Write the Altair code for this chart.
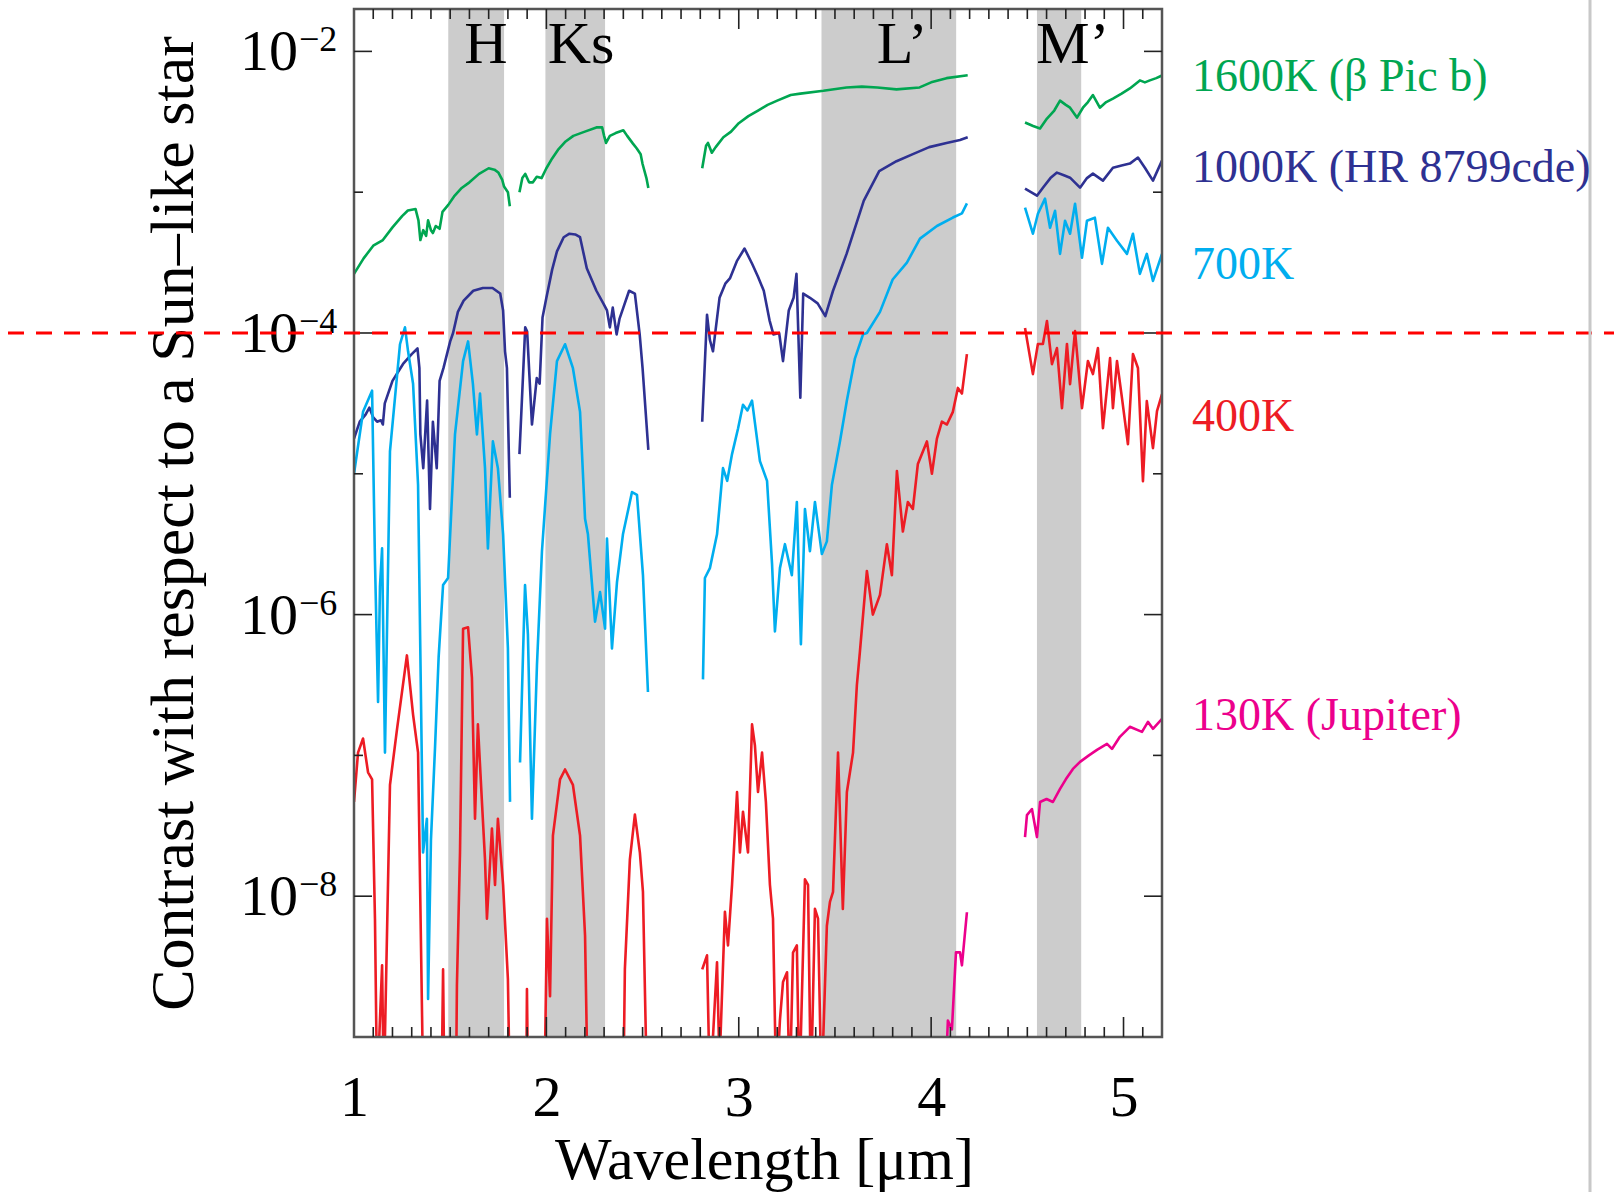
import altair as alt
import pandas as pd

# ---------------- data (wavelength in micron, log10 contrast; None = gap) ----------------
OFF = -9.4  # below the plotted range (line leaves the frame)

wl_1600 = [1.00, 1.05, 1.10, 1.15, 1.20, 1.25, 1.28, 1.32, 1.335, 1.345, 1.36, 1.375, 1.385, 1.40, 1.41,
           1.425, 1.445, 1.46, 1.49, 1.52, 1.56, 1.60, 1.65, 1.70, 1.73, 1.75, 1.77, 1.78, 1.80, 1.81, None,
           1.86, 1.875, 1.89, 1.91, 1.93, 1.95, 1.975, 2.00, 2.03, 2.06, 2.10, 2.14, 2.20, 2.26, 2.29, 2.30,
           2.31, 2.33, 2.36, 2.40, 2.42, 2.45, 2.47, 2.49, 2.50, 2.52, 2.53, None,
           2.81, 2.83, 2.84, 2.86, 2.88, 2.92, 2.96, 3.00, 3.05, 3.10, 3.15, 3.20, 3.27, 3.32, 3.44, 3.56,
           3.64, 3.72, 3.82, 3.94, 4.00, 4.08, 4.19, None,
           4.488, 4.53, 4.566, 4.602, 4.64, 4.67, 4.70, 4.722, 4.758, 4.789, 4.815, 4.841, 4.877, 4.91,
           4.945, 4.99, 5.033, 5.085, 5.111, 5.137, 5.17, 5.20]
lc_1600 = [-3.58, -3.47, -3.38, -3.34, -3.25, -3.17, -3.13, -3.12, -3.20, -3.34, -3.27, -3.31, -3.20, -3.27, -3.29,
           -3.24, -3.26, -3.14, -3.09, -3.03, -2.97, -2.93, -2.87, -2.83, -2.84, -2.86, -2.91, -2.96, -3.00, -3.10, None,
           -3.00, -2.90, -2.87, -2.93, -2.93, -2.89, -2.90, -2.83, -2.76, -2.70, -2.64, -2.60, -2.57, -2.54, -2.54, -2.60,
           -2.65, -2.60, -2.58, -2.56, -2.60, -2.655, -2.69, -2.73, -2.80, -2.90, -2.97, None,
           -2.83, -2.67, -2.65, -2.72, -2.68, -2.61, -2.57, -2.51, -2.46, -2.42, -2.38, -2.35, -2.31, -2.30, -2.28, -2.256,
           -2.25, -2.256, -2.27, -2.256, -2.22, -2.19, -2.17, None,
           -2.505, -2.53, -2.548, -2.477, -2.42, -2.35, -2.38, -2.40, -2.47, -2.40, -2.36, -2.31, -2.40, -2.36,
           -2.335, -2.30, -2.263, -2.206, -2.22, -2.206, -2.19, -2.171]

wl_1000 = [1.00, 1.03, 1.06, 1.08, 1.10, 1.12, 1.14, 1.15, 1.16, 1.20, 1.255, 1.30, 1.33, 1.34, 1.345, 1.36,
           1.38, 1.395, 1.41, 1.43, 1.445, 1.465, 1.50, 1.515, 1.54, 1.57, 1.62, 1.67, 1.72, 1.76, 1.775,
           1.785, 1.795, 1.81, None,
           1.86, 1.89, 1.90, 1.925, 1.95, 1.965, 1.98, 2.00, 2.03, 2.055, 2.09, 2.12, 2.15, 2.175, 2.21,
           2.26, 2.30, 2.315, 2.33, 2.345, 2.365, 2.38, 2.40, 2.43, 2.46, 2.485, 2.50, 2.53, None,
           2.81, 2.835, 2.85, 2.866, 2.90, 2.93, 2.955, 2.99, 3.03, 3.07, 3.10, 3.13, 3.16, 3.18, 3.21,
           3.23, 3.26, 3.285, 3.30, 3.32, 3.335, 3.37, 3.41, 3.45, 3.49, 3.56, 3.65, 3.73, 3.82, 3.905,
           3.99, 4.08, 4.15, 4.19, None,
           4.488, 4.55, 4.581, 4.62, 4.654, 4.69, 4.722, 4.774, 4.81, 4.841, 4.893, 4.945, 4.99, 5.033,
           5.075, 5.111, 5.153, 5.20]
lc_1000 = [-4.75, -4.63, -4.58, -4.53, -4.60, -4.63, -4.62, -4.65, -4.50, -4.34, -4.22, -4.15, -4.11, -4.25, -4.72, -4.96,
           -4.48, -5.25, -4.63, -4.96, -4.34, -4.25, -4.06, -4.00, -3.85, -3.77, -3.70, -3.68, -3.68, -3.72, -3.84,
           -4.13, -4.25, -5.17, None,
           -4.86, -3.96, -3.99, -4.65, -4.32, -4.36, -3.89, -3.75, -3.55, -3.42, -3.32, -3.295, -3.30, -3.32, -3.54,
           -3.70, -3.80, -3.84, -3.96, -3.82, -4.01, -3.90, -3.82, -3.70, -3.72, -4.01, -4.25, -4.83, None,
           -4.63, -3.87, -4.05, -4.13, -3.75, -3.65, -3.61, -3.49, -3.40, -3.51, -3.60, -3.70, -3.91, -4.01, -4.00,
           -4.20, -3.84, -3.75, -3.58, -4.46, -3.72, -3.75, -3.79, -3.88, -3.70, -3.44, -3.06, -2.85, -2.78, -2.73,
           -2.68, -2.65, -2.63, -2.61, None,
           -2.975, -3.025, -2.968, -2.90, -2.861, -2.88, -2.897, -2.968, -2.90, -2.868, -2.918, -2.826, -2.81, -2.797,
           -2.754, -2.826, -2.918, -2.776]

wl_700 = [1.00, 1.047, 1.094, 1.109, 1.125, 1.135, 1.146, 1.161, 1.187, 1.239, 1.265, 1.281, 1.307, 1.333,
          1.359, 1.379, 1.385, 1.40, 1.421, 1.44, 1.463, 1.489, 1.525, 1.567, 1.593, 1.618, 1.639, 1.655,
          1.681, 1.696, 1.722, 1.748, 1.775, 1.80, 1.811, None,
          1.863, 1.879, 1.889, 1.904, 1.925, 1.951, 1.977, 2.019, 2.055, 2.097, 2.138, 2.175, 2.201, 2.216,
          2.253, 2.279, 2.305, 2.315, 2.341, 2.367, 2.398, 2.445, 2.471, 2.502, 2.528, None,
          2.814, 2.824, 2.85, 2.887, 2.918, 2.94, 2.965, 2.996, 3.022, 3.045, 3.069, 3.09, 3.11, 3.147,
          3.173, 3.188, 3.214, 3.24, 3.276, 3.302, 3.323, 3.344, 3.37, 3.396, 3.432, 3.458, 3.484, 3.526,
          3.562, 3.604, 3.646, 3.666, 3.734, 3.80, 3.874, 3.942, 4.03, 4.113, 4.16, 4.186, None,
          4.488, 4.529, 4.555, 4.592, 4.618, 4.644, 4.670, 4.696, 4.722, 4.748, 4.784, 4.810, 4.851,
          4.888, 4.919, 4.966, 5.018, 5.049, 5.085, 5.121, 5.153, 5.20]
lc_700 = [-5.00, -4.56, -4.41, -5.62, -6.62, -5.80, -5.53, -6.98, -4.84, -4.08, -3.96, -4.13, -4.36, -5.08,
          -7.69, -7.45, -8.73, -7.60, -6.95, -6.30, -5.79, -5.74, -4.72, -4.20, -4.06, -4.36, -4.72, -4.43,
          -4.96, -5.53, -4.77, -4.96, -5.43, -6.24, -7.33, None,
          -7.05, -6.26, -5.79, -6.14, -7.45, -6.36, -5.55, -4.72, -4.20, -4.08, -4.25, -4.56, -5.32, -5.43,
          -6.05, -5.84, -6.10, -5.46, -6.24, -5.77, -5.43, -5.13, -5.15, -5.72, -6.55, None,
          -6.46, -5.74, -5.67, -5.43, -4.96, -5.05, -4.86, -4.68, -4.51, -4.55, -4.48, -4.70, -4.91, -5.05,
          -5.64, -6.12, -5.67, -5.50, -5.72, -5.20, -6.21, -5.25, -5.55, -5.20, -5.57, -5.48, -5.08, -4.77,
          -4.48, -4.18, -4.01, -4.00, -3.85, -3.62, -3.50, -3.33, -3.24, -3.18, -3.15, -3.08, None,
          -3.110, -3.295, -3.153, -3.046, -3.253, -3.132, -3.438, -3.203, -3.295, -3.082, -3.466, -3.203, -3.181,
          -3.509, -3.253, -3.345, -3.438, -3.295, -3.580, -3.438, -3.630, -3.438]

wl_400 = [1.00, 1.021, 1.047, 1.073, 1.094, 1.109, 1.12, 1.146, 1.155, 1.187, 1.224, 1.275, 1.307, 1.333,
          1.36, 1.455, 1.463, 1.47, 1.53, 1.535, 1.551, 1.567, 1.593, 1.613, 1.629, 1.644, 1.665, 1.681,
          1.691, 1.717, 1.733, 1.748, 1.775, 1.80, 1.81, None,
          1.86, 1.895, 1.899, 1.905, 1.99, 2.003, 2.019, 2.034, 2.071, 2.097, 2.138, 2.175, 2.201, 2.215,
          2.40, 2.408, 2.434, 2.46, 2.486, 2.502, 2.523, None,
          2.81, 2.835, 2.85, 2.887, 2.90, 2.928, 2.944, 2.965, 2.991, 3.006, 3.022, 3.048, 3.069, 3.084,
          3.10, 3.121, 3.141, 3.162, 3.178, 3.195, 3.214, 3.23, 3.251, 3.265, 3.282, 3.302, 3.315, 3.344,
          3.36, 3.375, 3.396, 3.412, 3.43, 3.458, 3.474, 3.49, 3.516, 3.541, 3.562, 3.578, 3.594, 3.614,
          3.630, 3.666, 3.697, 3.734, 3.770, 3.796, 3.822, 3.853, 3.879, 3.905, 3.931, 3.978, 4.004, 4.030,
          4.056, 4.082, 4.113, 4.139, 4.160, 4.186, None,
          4.488, 4.529, 4.555, 4.581, 4.602, 4.628, 4.654, 4.680, 4.706, 4.722, 4.748, 4.784, 4.815, 4.841,
          4.867, 4.893, 4.930, 4.945, 4.966, 4.992, 5.023, 5.049, 5.075, 5.101, 5.121, 5.153, 5.174, 5.20]
lc_400 = [-7.33, -6.98, -6.88, -7.12, -7.17, -8.16, OFF, -8.49, OFF, -7.21, -6.81, -6.29, -6.71, -6.98,
          OFF, OFF, -8.52, OFF, OFF, -8.63, -7.69, -6.10, -6.09, -6.45, -7.45, -6.78, -7.33, -7.74,
          -8.16, -7.52, -7.92, -7.45, -7.92, -8.59, OFF, None,
          OFF, OFF, -8.66, OFF, OFF, -8.16, -8.71, -7.57, -7.17, -7.10, -7.21, -7.57, -8.28, OFF,
          OFF, -8.52, -7.74, -7.42, -7.69, -7.97, OFF, None,
          -8.52, -8.42, OFF, -8.47, -9.2, -8.11, -8.35, -7.92, -7.26, -7.69, -7.40, -7.69, -6.78, -6.93,
          -7.26, -6.98, -7.33, -7.92, -8.16, OFF, -8.88, -8.61, -8.54, OFF, -8.40, -8.35, OFF, -7.88,
          -7.92, OFF, -8.09, -8.16, OFF, -8.21, -8.04, -7.97, -6.98, -8.09, -7.26, -7.12, -6.98, -6.50,
          -6.26, -5.69, -6.00, -5.86, -5.50, -5.72, -4.98, -5.41, -5.20, -5.25, -4.93, -4.77, -5.00, -4.75,
          -4.63, -4.65, -4.56, -4.39, -4.43, -4.15, None,
          -3.964, -4.292, -4.078, -4.078, -3.915, -4.221, -4.107, -4.534, -4.078, -4.363, -3.986, -4.534, -4.199, -4.292,
          -4.107, -4.676, -4.178, -4.534, -4.199, -4.463, -4.790, -4.149, -4.249, -5.053, -4.484, -4.818, -4.555, -4.434]

wl_130 = [4.072, 4.087, 4.108, 4.129, 4.150, 4.160, 4.186, None,
          4.488, 4.498, 4.524, 4.550, 4.566, 4.60, 4.633, 4.670, 4.70, 4.737, 4.774, 4.82, 4.862, 4.914,
          4.940, 4.981, 5.033, 5.096, 5.127, 5.153, 5.20]
lc_130 = [OFF, -8.883, -8.946, -8.399, -8.399, -8.491, -8.114, None,
          -7.580, -7.424, -7.381, -7.580, -7.331, -7.31, -7.331, -7.238, -7.17, -7.096, -7.046, -7.00, -6.961, -6.918,
          -6.954, -6.868, -6.797, -6.833, -6.762, -6.811, -6.740]

series_names = ["1600K (β Pic b)", "1000K (HR 8799cde)", "700K", "400K", "130K (Jupiter)"]
series_colors = ["#00a651", "#2e3192", "#00aeef", "#ed1c24", "#ec008c"]
label_logc = [-2.278, -2.925, -3.616, -4.698, -6.819]
label_wl = [5.356, 5.356, 5.356, 5.356, 5.356]

band_names = ["H", "Ks", "L’", "M’"]
band_start = [1.49, 1.995, 3.43, 4.55]
band_end = [1.78, 2.305, 4.13, 4.78]
band_label_wl = [1.686, 2.18, 3.85, 4.737]

x_major = [2, 3, 4, 5]
x_minor = [1.1, 1.2, 1.3, 1.4, 1.5, 1.6, 1.7, 1.8, 1.9, 2.1, 2.2, 2.3, 2.4, 2.5, 2.6, 2.7, 2.8, 2.9,
           3.1, 3.2, 3.3, 3.4, 3.5, 3.6, 3.7, 3.8, 3.9, 4.1, 4.2, 4.3, 4.4, 4.5, 4.6, 4.7, 4.8, 4.9,
           5.1]
x_tick_labels = [1, 2, 3, 4, 5]
y_major = [1e-2, 1e-4, 1e-6, 1e-8]
y_minor = [1e-3, 1e-5, 1e-7]
y_exp_text = ["−2", "−4", "−6", "−8"]
contrast_limit = 1e-4

# ---------------- build tables ----------------
rows = []
for name, wl, lc in zip(series_names, [wl_1600, wl_1000, wl_700, wl_400, wl_130],
                        [lc_1600, lc_1000, lc_700, lc_400, lc_130]):
    seg = 0
    for i, (w, v) in enumerate(zip(wl, lc)):
        if w is None:
            seg += 1
            continue
        rows.append({"series": name, "seg": f"{name}#{seg}", "i": i, "wl": w, "c": 10 ** v})
spec_df = pd.DataFrame(rows)

labels_df = pd.DataFrame({"series": series_names, "wl": label_wl, "c": [10 ** v for v in label_logc]})
bands_df = pd.DataFrame({"band": band_names, "start": band_start, "end": band_end, "lx": band_label_wl})
xmaj_df = pd.DataFrame({"wl": x_major})
xmin_df = pd.DataFrame({"wl": x_minor})
ymaj_df = pd.DataFrame({"c": y_major, "base": ["10"] * 4, "exp": y_exp_text})
ymin_df = pd.DataFrame({"c": y_minor})

W, H = 808, 1028
FONT = "Liberation Serif"

xs = alt.Scale(domain=[1, 5.2], nice=False, zero=False)
ys = alt.Scale(type="log", domain=[1e-9, 2e-2], nice=False)
cs = alt.Scale(domain=series_names, range=series_colors)

x_axis = alt.Axis(values=x_tick_labels, format="d", labelFontSize=58, labelFont=FONT, labelColor="black",
                  labelBaseline="alphabetic", labelPadding=78, labelFlush=False, labelOverlap=False,
                  ticks=False, tickSize=0, domain=False, grid=False,
                  title="Wavelength [μm]", titleFont=FONT, titleFontSize=60, titleFontWeight="normal",
                  titleColor="black", titleX=410, titleY=141, titleBaseline="alphabetic", titleAlign="center")
y_axis = alt.Axis(labels=False, ticks=False, tickSize=0, domain=False, grid=False,
                  title="Contrast with respect to a Sun–like star", titleFont=FONT, titleFontSize=62,
                  titleFontWeight="normal", titleColor="black", titleX=-162, titleY=H / 2, titleAngle=270,
                  titleAlign="center", titleBaseline="alphabetic")

bands = alt.Chart(bands_df).mark_rect(color="#cccccc").encode(
    x=alt.X("start:Q", scale=xs, axis=x_axis), x2="end:Q",
    y=alt.value(0), y2=alt.value(H))

band_text = alt.Chart(bands_df).mark_text(font=FONT, fontSize=60, baseline="alphabetic", align="center",
                                          color="black").encode(
    x=alt.X("lx:Q", scale=xs), y=alt.value(54), text="band:N")

lines = alt.Chart(spec_df).mark_line(strokeWidth=2.6, clip=True, strokeJoin="round").encode(
    x=alt.X("wl:Q", scale=xs),
    y=alt.Y("c:Q", scale=ys, axis=y_axis),
    color=alt.Color("series:N", scale=cs, legend=None),
    detail="seg:N", order="i:Q")

frame = alt.Chart(pd.DataFrame({"k": [0]})).mark_rect(
    fill=None, fillOpacity=0, stroke="#555555", strokeWidth=2.5).encode(
    x=alt.value(0), x2=alt.value(W), y=alt.value(0), y2=alt.value(H))

tick_col = "#222222"
xb_major = alt.Chart(xmaj_df).mark_rule(color=tick_col, strokeWidth=1.6).encode(
    x=alt.X("wl:Q", scale=xs), y=alt.value(H), y2=alt.value(H - 20))
xt_major = alt.Chart(xmaj_df).mark_rule(color=tick_col, strokeWidth=1.6).encode(
    x=alt.X("wl:Q", scale=xs), y=alt.value(0), y2=alt.value(20))
xb_minor = alt.Chart(xmin_df).mark_rule(color=tick_col, strokeWidth=1.6).encode(
    x=alt.X("wl:Q", scale=xs), y=alt.value(H), y2=alt.value(H - 10))
xt_minor = alt.Chart(xmin_df).mark_rule(color=tick_col, strokeWidth=1.6).encode(
    x=alt.X("wl:Q", scale=xs), y=alt.value(0), y2=alt.value(10))
yl_major = alt.Chart(ymaj_df).mark_rule(color=tick_col, strokeWidth=1.6).encode(
    y=alt.Y("c:Q", scale=ys), x=alt.value(0), x2=alt.value(18))
yr_major = alt.Chart(ymaj_df).mark_rule(color=tick_col, strokeWidth=1.6).encode(
    y=alt.Y("c:Q", scale=ys), x=alt.value(W), x2=alt.value(W - 18))
yl_minor = alt.Chart(ymin_df).mark_rule(color=tick_col, strokeWidth=1.6).encode(
    y=alt.Y("c:Q", scale=ys), x=alt.value(0), x2=alt.value(9))
yr_minor = alt.Chart(ymin_df).mark_rule(color=tick_col, strokeWidth=1.6).encode(
    y=alt.Y("c:Q", scale=ys), x=alt.value(W), x2=alt.value(W - 9))

y_base = alt.Chart(ymaj_df).mark_text(font=FONT, fontSize=58, align="right", baseline="alphabetic",
                                      dy=19, color="black").encode(
    y=alt.Y("c:Q", scale=ys), x=alt.value(-56), text="base:N")
y_exp = alt.Chart(ymaj_df).mark_text(font=FONT, fontSize=36, align="left", baseline="alphabetic",
                                     dy=0, color="black").encode(
    y=alt.Y("c:Q", scale=ys), x=alt.value(-55), text="exp:N")

limit = alt.Chart(pd.DataFrame({"c": [contrast_limit]})).mark_rule(
    color="#ff0000", strokeWidth=3, strokeDash=[16, 12]).encode(
    y=alt.Y("c:Q", scale=ys), x=alt.value(-346), x2=alt.value(1260))

edge = alt.Chart(pd.DataFrame({"k": [0]})).mark_rule(color="#c8c8c8", strokeWidth=3).encode(
    x=alt.value(1236), y=alt.value(-9), y2=alt.value(1183))

series_text = alt.Chart(labels_df).mark_text(font=FONT, fontSize=46, align="left",
                                             baseline="alphabetic").encode(
    x=alt.X("wl:Q", scale=xs), y=alt.Y("c:Q", scale=ys), text="series:N",
    color=alt.Color("series:N", scale=cs, legend=None))

chart = alt.layer(
    bands, band_text, lines, frame,
    xb_major, xt_major, xb_minor, xt_minor, yl_major, yr_major, yl_minor, yr_minor,
    y_base, y_exp, limit, edge, series_text
).properties(
    width=W, height=H,
    autosize=alt.AutoSizeParams(type="none"),
    padding={"left": 354, "top": 9, "right": 452, "bottom": 155},
).configure_view(stroke=None).configure(background="white")

chart.save("out.html", embed_options={"renderer": "svg", "actions": False})
